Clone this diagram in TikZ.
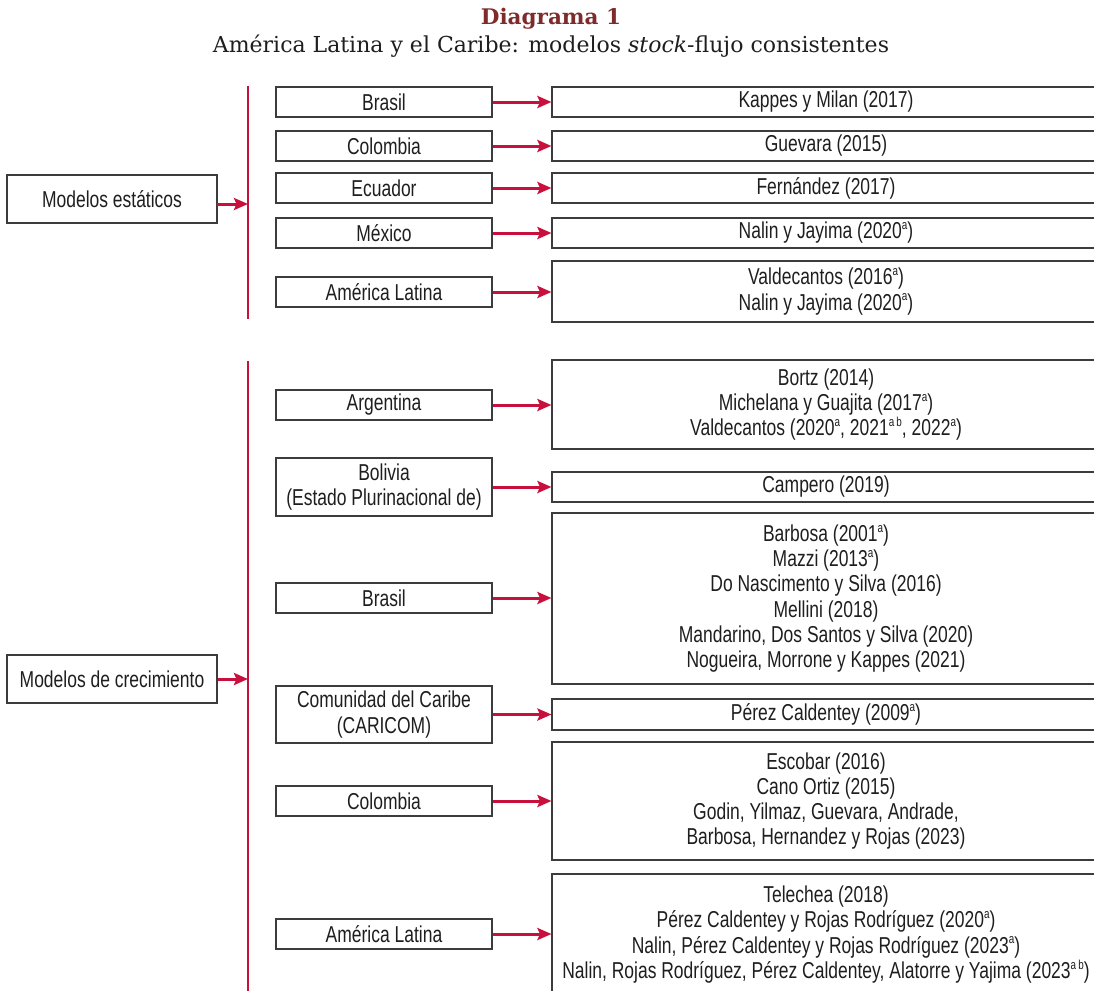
\documentclass[tikz,border=0pt]{standalone}
\usepackage{fontspec}
\setmainfont{Liberation Sans}[FakeStretch=0.76]
\newfontfamily\titlefont{DejaVu Serif}
\usetikzlibrary{arrows.meta}
\definecolor{arrowred}{HTML}{C8103C}
\definecolor{titlered}{HTML}{7F2B2B}
\definecolor{boxgray}{HTML}{3C3C3C}
\definecolor{textblack}{HTML}{1E1E1E}
\newcommand\spr[1]{\raisebox{0.75ex}{\fontsize{13}{13}\selectfont #1}}
\begin{document}
\begin{tikzpicture}[x=1pt,y=-1pt,
  box/.style={draw=boxgray, line width=1.1pt, inner sep=0pt, align=center,
    text=textblack, font=\fontsize{23}{25.3}\selectfont},
  lbox/.style={box, minimum width=216pt},
  rbox/.style={box, minimum width=548pt},
  mbox/.style={box, minimum width=210pt, minimum height=48pt},
  link/.style={draw=arrowred, line width=3pt, -{Stealth[length=14pt,width=12pt,inset=2.5pt]}},
  spine/.style={draw=arrowred, line width=2.7pt},
  ttl/.style={text=titlered, font=\titlefont\bfseries\fontsize{21.5}{24}\selectfont},
  subttl/.style={text=textblack, font=\titlefont\fontsize{22}{24}\selectfont}]
\useasboundingbox (0,0) rectangle (1094,990);

\node[ttl] (title) at (551,19) {Diagrama 1};
\node[subttl] (subtitle) at (551,46) {América Latina y el Caribe: modelos \textit{stock}-flujo consistentes};

% ---------- Modelos estáticos ----------
\coordinate (s1t) at (248,86);
\coordinate (s1b) at (248,319);
\draw[spine] (s1t) -- (s1b);
\node[mbox] (mest) at (112,199) {Modelos estáticos};
\coordinate (mestout) at (217,204);
\draw[link] (mestout) -- (mestout -| s1t);

\node[lbox, minimum height=30pt] (a1) at (384,102) {Brasil};
\node[rbox, minimum height=30pt] (b1) at (826,102) {Kappes y Milan (2017)};
\node[lbox, minimum height=30pt] (a2) at (384,146) {Colombia};
\node[rbox, minimum height=30pt] (b2) at (826,146) {Guevara (2015)};
\node[lbox, minimum height=30pt] (a3) at (384,188) {Ecuador};
\node[rbox, minimum height=30pt] (b3) at (826,188) {Fernández (2017)};
\node[lbox, minimum height=30pt] (a4) at (384,233) {México};
\node[rbox, minimum height=30pt] (b4) at (826,233) {Nalin y Jayima (2020\spr{a})};
\node[lbox, minimum height=30pt] (a5) at (384,292) {América Latina};
\node[rbox, minimum height=61pt] (b5) at (826,291.5) {Valdecantos (2016\spr{a})\\Nalin y Jayima (2020\spr{a})};
\foreach \i in {1,...,5} {\draw[link] (a\i.east) -- (a\i.east -| b\i.west);}

% ---------- Modelos de crecimiento ----------
\coordinate (s2t) at (248,361);
\coordinate (s2b) at (248,992);
\draw[spine] (s2t) -- (s2b);
\node[mbox] (mcre) at (112,679) {Modelos de crecimiento};
\draw[link] (mcre.east) -- (mcre.east -| s2t);

\node[lbox, minimum height=30pt] (c1) at (384,405) {Argentina};
\node[rbox, minimum height=89pt] (d1) at (826,404.5) {Bortz (2014)\\Michelana y Guajita (2017\spr{a})\\Valdecantos (2020\spr{a}, 2021\spr{a\,b}, 2022\spr{a})};
\node[lbox, minimum height=58pt] (c2) at (384,487) {Bolivia\\(Estado Plurinacional de)};
\node[rbox, minimum height=30pt] (d2) at (826,487) {Campero (2019)};
\node[lbox, minimum height=30pt] (c3) at (384,598) {Brasil};
\node[rbox, minimum height=171pt] (d3) at (826,598.5) {Barbosa (2001\spr{a})\\Mazzi (2013\spr{a})\\Do Nascimento y Silva (2016)\\Mellini (2018)\\Mandarino, Dos Santos y Silva (2020)\\Nogueira, Morrone y Kappes (2021)};
\node[lbox, minimum height=57pt] (c4) at (384,714.5) {Comunidad del Caribe\\(CARICOM)};
\node[rbox, minimum height=31pt] (d4) at (826,714.5) {Pérez Caldentey (2009\spr{a})};
\node[lbox, minimum height=30pt] (c5) at (384,801) {Colombia};
\node[rbox, minimum height=118pt] (d5) at (826,801) {Escobar (2016)\\Cano Ortiz (2015)\\Godin, Yilmaz, Guevara, Andrade,\\Barbosa, Hernandez y Rojas (2023)};
\node[lbox, minimum height=30pt] (c6) at (384,934) {América Latina};
\node[rbox, minimum height=121pt] (d6) at (826,934.5) {Telechea (2018)\\Pérez Caldentey y Rojas Rodríguez (2020\spr{a})\\Nalin, Pérez Caldentey y Rojas Rodríguez (2023\spr{a})\\Nalin, Rojas Rodríguez, Pérez Caldentey, Alatorre y Yajima (2023\spr{a\,b})};
\foreach \i in {1,...,6} {\draw[link] (c\i.east) -- (c\i.east -| d\i.west);}
\end{tikzpicture}
\end{document}
